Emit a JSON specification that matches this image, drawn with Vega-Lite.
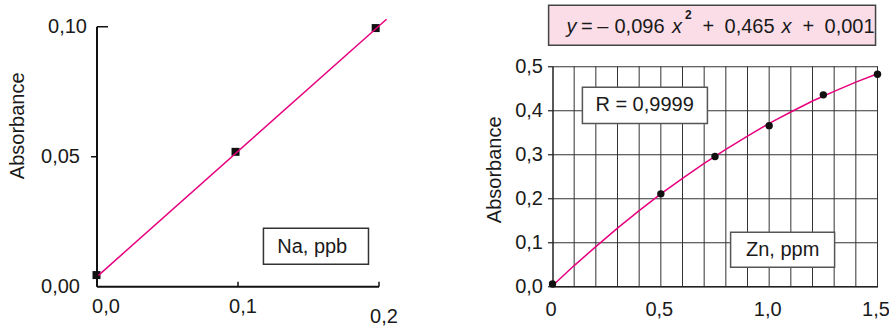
{
  "$schema": "https://vega.github.io/schema/vega-lite/v6.json",
  "autosize": {"type": "pad"},
  "padding": {"left": 6.5, "top": 4.25, "right": 0, "bottom": 0},
  "background": "white",
  "spacing": 174,
  "bounds": "flush",
  "config": {
    "view": {"stroke": null},
    "font": "Liberation Sans",
    "axis": {
      "labelFont": "Liberation Sans", "labelFontSize": 20, "labelColor": "#1a1a1a",
      "titleFont": "Liberation Sans", "titleFontSize": 20, "titleFontWeight": "normal", "titleColor": "#1a1a1a",
      "labelFlush": false, "labelOverlap": false
    }
  },
  "datasets": {
    "naPts": [{"c": 0, "a": 0.0043}, {"c": 0.0986, "a": 0.0517}, {"c": 0.198, "a": 0.0993}],
    "naLine": [{"c": 0.0014, "a": 0.0042}, {"c": 0.2057, "a": 0.1027}],
    "naBox": [{"x1": 0.1184, "x2": 0.1929, "y1": 0.0085, "y2": 0.0223, "xt": 0.153, "yt": 0.015, "label": "Na, ppb"}],
    "znPts": [{"c": 0, "a": 0.005}, {"c": 0.5, "a": 0.21}, {"c": 0.75, "a": 0.295}, {"c": 1.0, "a": 0.365}, {"c": 1.25, "a": 0.435}, {"c": 1.5, "a": 0.482}],
    "znCurve": [
      {"c": 0, "a": 0.001}, {"c": 0.1, "a": 0.047}, {"c": 0.2, "a": 0.090}, {"c": 0.3, "a": 0.132},
      {"c": 0.4, "a": 0.172}, {"c": 0.5, "a": 0.210}, {"c": 0.6, "a": 0.245}, {"c": 0.7, "a": 0.279},
      {"c": 0.8, "a": 0.311}, {"c": 0.9, "a": 0.341}, {"c": 1.0, "a": 0.370}, {"c": 1.1, "a": 0.396},
      {"c": 1.2, "a": 0.421}, {"c": 1.3, "a": 0.443}, {"c": 1.4, "a": 0.464}, {"c": 1.5, "a": 0.483}
    ],
    "vGrid": [
      {"c": 0.1}, {"c": 0.2}, {"c": 0.3}, {"c": 0.4}, {"c": 0.5}, {"c": 0.6}, {"c": 0.7}, {"c": 0.8},
      {"c": 0.9}, {"c": 1.0}, {"c": 1.1}, {"c": 1.2}, {"c": 1.3}, {"c": 1.4}, {"c": 1.5}
    ],
    "znBoxes": [
      {"x1": 0.138, "x2": 0.715, "y1": 0.370, "y2": 0.452, "xt": 0.425, "yt": 0.411, "label": "R = 0,9999"},
      {"x1": 0.822, "x2": 1.302, "y1": 0.043, "y2": 0.123, "xt": 1.062, "yt": 0.082, "label": "Zn, ppm"}
    ],
    "eqBox": [{"x1": -0.018, "x2": 1.491, "y1": 0.5477, "y2": 0.6386}],
    "eqText": [
      {"t": "=", "x": 0.1315, "y": 0.575, "k": "n"},
      {"t": "–", "x": 0.2065, "y": 0.575, "k": "n"},
      {"t": "0,096", "x": 0.286, "y": 0.575, "k": "n"},
      {"t": "+", "x": 0.692, "y": 0.575, "k": "n"},
      {"t": "0,465", "x": 0.794, "y": 0.575, "k": "n"},
      {"t": "+", "x": 1.154, "y": 0.575, "k": "n"},
      {"t": "0,001", "x": 1.2554, "y": 0.575, "k": "n"},
      {"t": "y", "x": 0.065, "y": 0.575, "k": "i"},
      {"t": "x", "x": 0.552, "y": 0.575, "k": "i"},
      {"t": "x", "x": 1.057, "y": 0.575, "k": "i"},
      {"t": "2", "x": 0.612, "y": 0.6068, "k": "s"}
    ]
  },
  "hconcat": [
    {
      "width": 282,
      "height": 260,
      "layer": [
        {
          "data": {"name": "naPts"},
          "mark": {"type": "square", "size": 64, "filled": true, "color": "#111111", "opacity": 1},
          "encoding": {
            "x": {
              "field": "c", "type": "quantitative",
              "scale": {"domain": [0, 0.2], "nice": false, "zero": false},
              "axis": {
                "values": [0, 0.1, 0.2], "title": null, "grid": false, "labelOverlap": false,
                "domainColor": "#111111", "domainWidth": 2,
                "tickColor": "#111111", "tickWidth": 1.5, "tickSize": -5,
                "labelExpr": "replace(format(datum.value, '.1f'), '.', ',')",
                "labelPadding": {"condition": {"test": "datum.value > 0.15", "value": 25}, "value": 15},
                "labelOffset": {"condition": {"test": "datum.value < 0.05", "value": 9}, "value": 5}
              }
            },
            "y": {
              "field": "a", "type": "quantitative",
              "scale": {"domain": [0, 0.1], "nice": false},
              "axis": {
                "values": [0, 0.05, 0.1], "title": "Absorbance", "grid": false, "labelOverlap": false,
                "domainColor": "#111111", "domainWidth": 2,
                "tickColor": "#111111", "tickWidth": 1.5,
                "tickSize": {"condition": {"test": "datum.value > 0.09", "value": -11}, "value": 6},
                "tickOpacity": {"condition": {"test": "datum.value < 0.01", "value": 0}, "value": 1},
                "labelExpr": "replace(format(datum.value, '.2f'), '.', ',')",
                "labelPadding": {"condition": {"test": "datum.value > 0.09", "value": 21}, "value": 11},
                "titleX": -79.5, "titleY": 99, "titleAngle": 270, "titleBaseline": "middle", "titleAlign": "center"
              }
            }
          }
        },
        {
          "data": {"name": "naLine"},
          "mark": {"type": "line", "color": "#e6007e", "strokeWidth": 1.5, "clip": false},
          "encoding": {"x": {"field": "c", "type": "quantitative"}, "y": {"field": "a", "type": "quantitative"}}
        },
        {
          "data": {"name": "naBox"},
          "mark": {"type": "rect", "fill": "white", "stroke": "#333333", "strokeWidth": 1.5},
          "encoding": {
            "x": {"field": "x1", "type": "quantitative"}, "x2": {"field": "x2"},
            "y": {"field": "y1", "type": "quantitative"}, "y2": {"field": "y2"}
          }
        },
        {
          "data": {"name": "naBox"},
          "mark": {"type": "text", "fontSize": 20, "color": "#1a1a1a", "font": "Liberation Sans"},
          "encoding": {
            "x": {"field": "xt", "type": "quantitative"},
            "y": {"field": "yt", "type": "quantitative"},
            "text": {"field": "label"}
          }
        }
      ]
    },
    {
      "width": 325,
      "height": 260,
      "layer": [
        {
          "data": {"name": "vGrid"},
          "mark": {"type": "rule", "color": "#333333", "strokeWidth": 1},
          "encoding": {
            "x": {
              "field": "c", "type": "quantitative",
              "scale": {"domain": [0, 1.5], "nice": false, "zero": false},
              "axis": {
                "values": [0, 0.5, 1.0, 1.5],
                "title": null, "grid": false,
                "ticks": false, "tickSize": 0, "labelOverlap": false,
                "domainColor": "#222222", "domainWidth": 1.5,
                "labelExpr": "datum.value == 0 ? '0' : replace(format(datum.value, '.1f'), '.', ',')",
                "labelPadding": 13, "labelOffset": -2
              }
            },
            "y": {
              "datum": 0, "type": "quantitative",
              "scale": {"domain": [0, 0.5], "nice": false, "range": [260, 40]},
              "axis": {
                "values": [0, 0.1, 0.2, 0.3, 0.4, 0.5], "title": "Absorbance", "labelOverlap": false,
                "grid": true, "gridColor": "#333333", "gridWidth": 1,
                "tickSize": 5, "tickColor": "#222222", "tickWidth": 1.2,
                "domainColor": "#222222", "domainWidth": 1.5,
                "labelExpr": "replace(format(datum.value, '.1f'), '.', ',')",
                "labelPadding": 5,
                "titleX": -58, "titleY": 143, "titleAngle": 270, "titleBaseline": "middle", "titleAlign": "center"
              }
            },
            "y2": {"datum": 0.5}
          }
        },
        {
          "data": {"name": "znCurve"},
          "mark": {"type": "line", "color": "#e6007e", "strokeWidth": 1.5, "clip": false},
          "encoding": {
            "x": {"field": "c", "type": "quantitative"},
            "y": {"field": "a", "type": "quantitative"}
          }
        },
        {
          "data": {"name": "znPts"},
          "mark": {"type": "circle", "size": 55, "color": "#111111", "opacity": 1},
          "encoding": {"x": {"field": "c", "type": "quantitative"}, "y": {"field": "a", "type": "quantitative"}}
        },
        {
          "data": {"name": "znBoxes"},
          "mark": {"type": "rect", "fill": "white", "stroke": "#555555", "strokeWidth": 1.5},
          "encoding": {
            "x": {"field": "x1", "type": "quantitative"}, "x2": {"field": "x2"},
            "y": {"field": "y1", "type": "quantitative"}, "y2": {"field": "y2"}
          }
        },
        {
          "data": {"name": "znBoxes"},
          "mark": {"type": "text", "fontSize": 20, "color": "#1a1a1a", "font": "Liberation Sans"},
          "encoding": {
            "x": {"field": "xt", "type": "quantitative"},
            "y": {"field": "yt", "type": "quantitative"},
            "text": {"field": "label"}
          }
        },
        {
          "data": {"name": "eqBox"},
          "mark": {"type": "rect", "fill": "#fbdde8", "stroke": "#444444", "strokeWidth": 1.5, "clip": false},
          "encoding": {
            "x": {"field": "x1", "type": "quantitative"}, "x2": {"field": "x2"},
            "y": {"field": "y1", "type": "quantitative"}, "y2": {"field": "y2"}
          }
        },
        {
          "data": {"name": "eqText"},
          "transform": [{"filter": "datum.k == 'n'"}],
          "mark": {"type": "text", "fontSize": 20, "align": "left", "baseline": "alphabetic", "color": "#1a1a1a", "font": "Liberation Sans"},
          "encoding": {
            "x": {"field": "x", "type": "quantitative"},
            "y": {"field": "y", "type": "quantitative"},
            "text": {"field": "t"}
          }
        },
        {
          "data": {"name": "eqText"},
          "transform": [{"filter": "datum.k == 'i'"}],
          "mark": {"type": "text", "fontSize": 20, "fontStyle": "italic", "align": "left", "baseline": "alphabetic", "color": "#1a1a1a", "font": "Liberation Sans"},
          "encoding": {
            "x": {"field": "x", "type": "quantitative"},
            "y": {"field": "y", "type": "quantitative"},
            "text": {"field": "t"}
          }
        },
        {
          "data": {"name": "eqText"},
          "transform": [{"filter": "datum.k == 's'"}],
          "mark": {"type": "text", "fontSize": 12, "fontWeight": "bold", "align": "left", "baseline": "alphabetic", "color": "#1a1a1a", "font": "Liberation Sans"},
          "encoding": {
            "x": {"field": "x", "type": "quantitative"},
            "y": {"field": "y", "type": "quantitative"},
            "text": {"field": "t"}
          }
        }
      ]
    }
  ]
}
